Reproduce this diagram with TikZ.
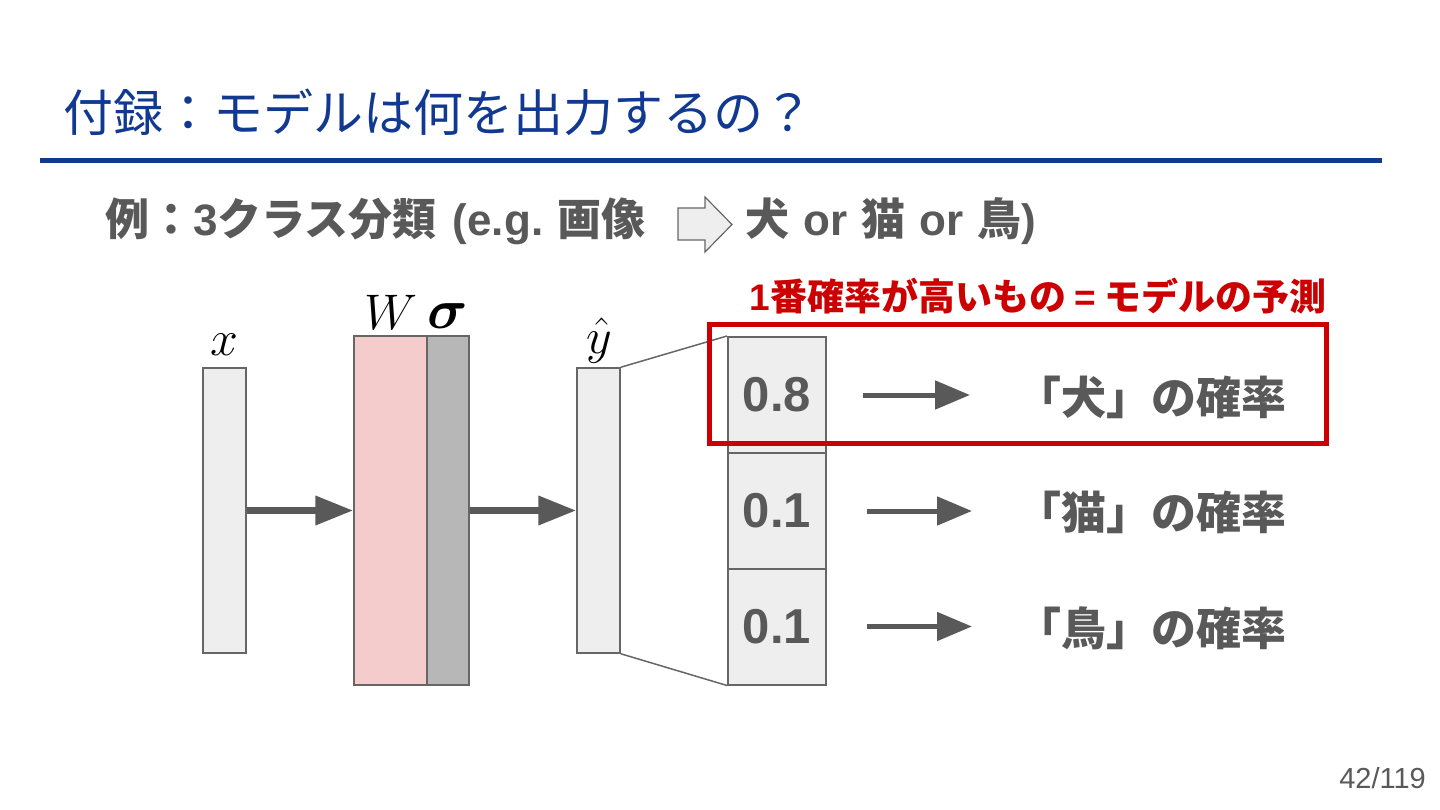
\RequirePackage{fix-cm}
\documentclass[tikz,border=0pt]{standalone}
\usepackage{amsmath}
\usepackage{fontspec}
\usetikzlibrary{arrows.meta}
\newfontfamily\jp{Noto Sans CJK JP}
\newfontfamily\lat{Liberation Sans}
\definecolor{titleblue}{RGB}{17,57,145}
\definecolor{txtgray}{RGB}{89,89,89}
\definecolor{edgegray}{RGB}{102,102,102}
\definecolor{cellfill}{RGB}{238,238,238}
\definecolor{wpink}{RGB}{244,204,204}
\definecolor{sgray}{RGB}{183,183,183}
\definecolor{predred}{RGB}{204,0,0}
\newcommand{\fs}[1]{\fontsize{#1}{#1}\selectfont}
\newcommand{\lt}[1]{{\lat\bfseries\fs{44}#1}}
\tikzset{
  vecbox/.style={draw=edgegray, line width=1.5pt, fill=cellfill, inner sep=0pt, minimum width=43pt, minimum height=285pt},
  layerbox/.style={draw=edgegray, line width=1.5pt, inner sep=0pt, minimum height=349pt},
  probcell/.style={draw=edgegray, line width=2pt, fill=cellfill, inner sep=0pt, minimum width=98pt, minimum height=116pt, text=txtgray, font=\lat\bfseries\fs{49}},
  bigarrow/.style={draw=txtgray, line width=7pt, -{Triangle[length=38pt,width=28pt]}},
  smallarrow/.style={draw=txtgray, line width=5pt, -{Triangle[length=35pt,width=28pt]}},
  problabel/.style={anchor=base west, inner sep=0pt, text=txtgray, font=\jp\bfseries\fs{45}},
  mathlabel/.style={anchor=base, inner sep=0pt, font=\fs{50}},
}
\begin{document}
\begin{tikzpicture}[x=1pt,y=-1pt]
\useasboundingbox (0,0) rectangle (1440,810);
\fill[white] (0,0) rectangle (1440,810);

% title
\node[anchor=base west, inner sep=0pt, text=titleblue, font=\jp\fs{50}] (title) at (63,132) {付録：モデルは何を出力するの？};
\draw[titleblue, line width=5pt] (40,161) -- (1382,161);

% subtitle
\node[anchor=base west, inner sep=0pt, text=txtgray, font=\jp\bfseries\fs{44}] (sub1) at (105,236)
  {例：\lt{3}クラス分類\hspace{16pt}\lt{(e.g.}\hspace{14pt}画像};
\draw[edgegray, line width=1.2pt, fill=cellfill] (678,208) -- (705,208) -- (705,197) -- (732,224.5) -- (705,252) -- (705,240) -- (678,240) -- cycle;
\node[anchor=base west, inner sep=0pt, text=txtgray, font=\jp\bfseries\fs{44}] (sub2) at (745,236)
  {犬\hspace{14pt}\lt{or}\hspace{14pt}猫\hspace{14pt}\lt{or}\hspace{14pt}鳥\lt{)}};

% network
\node[vecbox] (xvec) at (224.5,510.5) {};
\node[layerbox, fill=wpink, minimum width=73pt] (wbox) at (390.5,510.5) {};
\node[layerbox, fill=sgray, minimum width=42pt] (sbox) at (448,510.5) {};
\node[vecbox] (yvec) at (598.5,510.5) {};

\node[mathlabel] (xlab) at (224,355) {$x$};
\node[mathlabel] (wlab) at (391,330) {$W$};
\node[mathlabel, font=\fs{56}] (slab) at (448,328) {$\boldsymbol{\sigma}$};
\node[mathlabel] (ylab) at (599,353) {$\hat{y}$};

\draw[bigarrow] (xvec.east) -- (wbox.west);
\draw[bigarrow] (sbox.east) -- (yvec.west);

% probability cells
\node[probcell] (c1) at (777,395) {0.8};
\node[probcell] (c2) at (777,511) {0.1};
\node[probcell] (c3) at (777,626.5) {0.1};

\draw[edgegray, line width=1.5pt] (yvec.north east) -- (c1.north west);
\draw[edgegray, line width=1.5pt] (yvec.south east) -- (c3.south west);

% labels
\node[problabel] (l1) at (1016,414) {「犬」の確率};
\node[problabel] (l2) at (1016,529) {「猫」の確率};
\node[problabel] (l3) at (1016,645) {「鳥」の確率};

\draw[smallarrow, shorten <=36pt, shorten >=46pt] (c1.east) -- (c1.east -| l1.west);
\draw[smallarrow, shorten <=40pt, shorten >=44pt] (c2.east) -- (c2.east -| l2.west);
\draw[smallarrow, shorten <=40pt, shorten >=44pt] (c3.east) -- (c3.east -| l3.west);

% highlight
\node[draw=predred, line width=5pt, inner sep=0pt, minimum width=617pt, minimum height=119pt] (pick) at (1017.5,383.5) {};
\node[anchor=base, inner sep=0pt, text=predred, font=\jp\bfseries\fs{37}] (picklab) at (1038,311)
  {{\lat\bfseries 1}番確率が高いもの {\lat\bfseries =} モデルの予測};

% page number
\node[anchor=base east, inner sep=0pt, text=txtgray, font=\lat\fs{29}] (page) at (1426,788) {42/119};
\end{tikzpicture}
\end{document}
